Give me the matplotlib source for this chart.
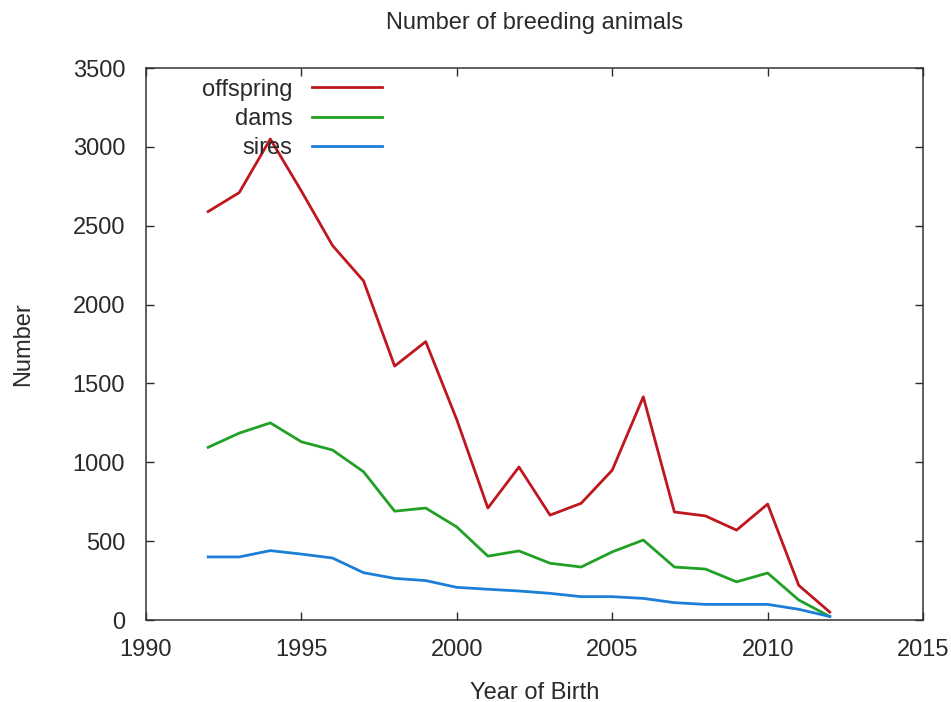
import matplotlib.pyplot as plt

plt.rcParams["font.family"] = ["Liberation Sans", "DejaVu Sans"]

years = list(range(1992, 2013))
offspring = [2590, 2710, 3050, 2720, 2375, 2150, 1610, 1765, 1270, 710,
             970, 665, 740, 950, 1415, 685, 660, 570, 735, 220, 50]
dams = [1095, 1185, 1250, 1130, 1078, 940, 690, 710, 590, 405,
        438, 360, 336, 432, 507, 336, 323, 242, 298, 127, 22]
sires = [400, 400, 440, 418, 393, 300, 264, 250, 207, 195,
         184, 169, 148, 148, 137, 110, 99, 99, 99, 68, 22]

TXT = "#2a2a2a"
FS = 17

fig = plt.figure(figsize=(9.51, 7.02), dpi=100)
ax = fig.add_axes([0.1535, 0.1168, 0.8171, 0.7863])

ax.plot(years, offspring, color="#c0161e", lw=2.0, label="offspring")
ax.plot(years, dams, color="#22a026", lw=2.0, label="dams")
ax.plot(years, sires, color="#1c7ed6", lw=2.0, label="sires")

ax.set_xlim(1990, 2015)
ax.set_ylim(0, 3500)
ax.set_xticks(range(1990, 2016, 5))
ax.set_yticks(range(0, 3501, 500))
ax.tick_params(direction="in", length=6, width=1, top=True, right=True,
               labelsize=FS, colors=TXT)
ax.tick_params(axis="x", pad=13.5)
ax.tick_params(axis="y", pad=15)
for s in ax.spines.values():
    s.set_linewidth(1.1)
    s.set_color("#333333")

ax.set_title("Number of breeding animals", fontsize=FS, pad=28, color=TXT)
ax.set_xlabel("Year of Birth", fontsize=FS, labelpad=15, color=TXT)
ax.set_ylabel("Number", fontsize=FS, labelpad=28, color=TXT)

leg = ax.legend(loc="upper right", bbox_to_anchor=(0.3037, 0.981),
                frameon=False, markerfirst=False, fontsize=FS,
                handlelength=2.95, handletextpad=0.85, labelspacing=0.31,
                borderpad=0, borderaxespad=0)
for t in leg.get_texts():
    t.set_color(TXT)

fig.savefig("out.png", dpi=100)
